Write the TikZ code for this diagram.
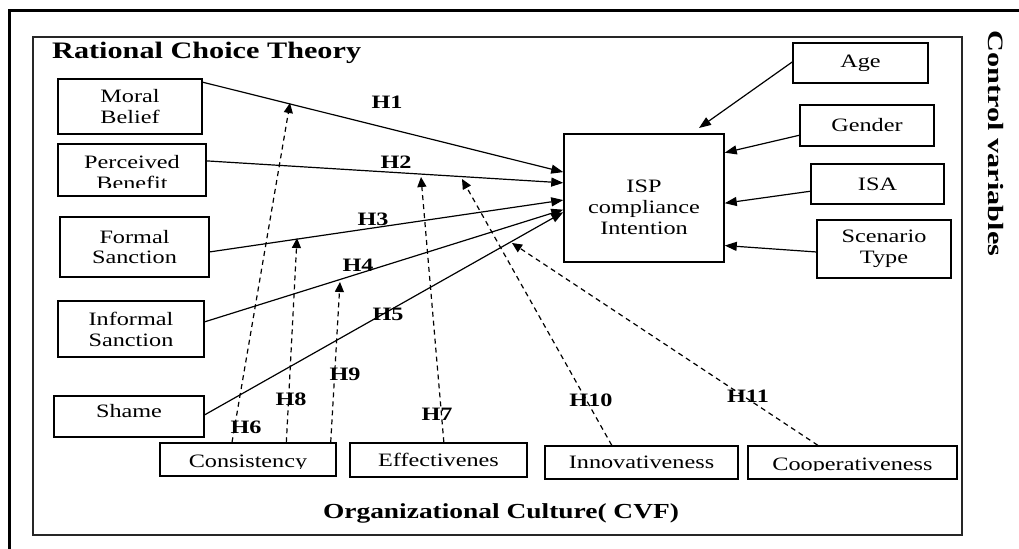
\documentclass[tikz,border=0pt]{standalone}
\usepackage{fontspec}
\setmainfont{Liberation Serif}[FakeStretch=1.28]
\newfontfamily\cvfont{Liberation Serif}[FakeStretch=1.38]
\usetikzlibrary{arrows.meta,calc}
\begin{document}
\begin{tikzpicture}[x=1bp,y=-1bp,
  box/.style={draw, line width=1.5bp, inner sep=0pt, align=center, font=\fontsize{19}{21}\selectfont},
  sz/.style 2 args={minimum width=#1bp, minimum height=#2bp},
  txt/.style={inner sep=0pt, align=center, font=\fontsize{19}{21}\selectfont},
  hlab/.style={inner sep=0pt, font=\bfseries\fontsize{19}{21}\selectfont},
  solidarr/.style={line width=1.2bp, -{Triangle[length=12bp,width=9bp]}},
  modarr/.style={line width=1.2bp, dash pattern=on 5bp off 4bp, -{Triangle[length=10bp,width=9bp]}},
]
\useasboundingbox (0,0) rectangle (1019,549);
% frames
\draw[line width=3bp] (9,549) -- (9,10.5) -- (1019,10.5);
\draw[line width=1.5bp, black!85] (33,37) rectangle (962,535);

% titles
\node[inner sep=0pt, anchor=base west, font=\bfseries\fontsize{23.7}{26}\selectfont] (rct) at (52,59) {Rational Choice Theory};
\node[inner sep=0pt, anchor=base, font=\bfseries\fontsize{21.5}{24}\selectfont] (oc) at (501,518) {Organizational Culture( CVF)};
\node[inner sep=0pt, rotate=-90, font=\cvfont\bfseries\fontsize{22}{24}\selectfont] (cv) at (996,143.5) {Control variables};

% left boxes
\node[box, sz={144}{55}] (mb) at (130,106.5) {Moral\\Belief};
\node[box, sz={148}{52}] (pb) at (132,170) {};
\begin{scope}
  \clip (58,144) rectangle (206,187.5);
  \node[txt, font=\fontsize{19}{22}\selectfont] (pbt) at (132,172.5) {Perceived\\Benefit};
\end{scope}
\node[box, sz={149}{60}] (fs) at (134.5,247) {Formal\\Sanction};
\node[box, sz={146}{56}] (is) at (131,329) {Informal\\Sanction};
\node[box, sz={150}{41}, text depth=11bp] (sh) at (129,416.5) {Shame};

% bottom boxes
\node[box, sz={176}{33}] (co) at (248,459.5) {};
\begin{scope}
  \clip (160,443) rectangle (336,468);
  \node[txt, anchor=base] (cot) at (248,467.5) {Consistency};
\end{scope}
\node[box, sz={177}{34}] (ef) at (438.5,460) {Effectivenes};
\node[box, sz={193}{33}] (in) at (641.5,462.5) {Innovativeness};
\node[box, sz={209}{33}] (cp) at (852.5,462.5) {};
\begin{scope}
  \clip (748,446) rectangle (957,470.5);
  \node[txt, anchor=base] (cpt) at (852.5,470) {Cooperativeness};
\end{scope}

% central box
\node[box, sz={160}{128}] (isp) at (644,198) {};
\node[txt] (ispt) at (644,207) {ISP\\compliance\\Intention};

% control boxes
\node[box, sz={135}{40}] (age) at (860.5,63) {Age};
\node[box, sz={134}{41}] (gen) at (867,125.5) {Gender};
\node[box, sz={133}{40}] (isa) at (877.5,184) {ISA};
\node[box, sz={134}{58}] (sc) at (884,249) {Scenario\\Type};

% main arrows
\draw[solidarr] ($(mb.north east)!0.07!(mb.south east)$) -- ($(isp.north west)!0.30!(isp.south west)$);
\draw[solidarr] ($(pb.north east)!0.33!(pb.south east)$) -- ($(isp.north west)!0.383!(isp.south west)$);
\draw[solidarr] ($(fs.north east)!0.58!(fs.south east)$) -- ($(isp.north west)!0.516!(isp.south west)$);
\draw[solidarr] ($(is.north east)!0.375!(is.south east)$) -- ($(isp.north west)!0.59!(isp.south west)$);
\draw[solidarr] ($(sh.north east)!0.46!(sh.south east)$) -- ($(isp.north west)!0.61!(isp.south west)$);

% moderator arrows
\coordinate (m6) at (290,103);
\coordinate (m8) at (297,238);
\coordinate (m9) at (340,282);
\coordinate (m7) at (421,177);
\coordinate (m10) at (462,179);
\coordinate (m11) at (512,243);
\draw[modarr] ($(co.north west)!0.41!(co.north east)$) -- (m6);
\draw[modarr] ($(co.north west)!0.716!(co.north east)$) -- (m8);
\draw[modarr] ($(co.north west)!0.966!(co.north east)$) -- (m9);
\draw[modarr] ($(ef.north west)!0.53!(ef.north east)$) -- (m7);
\draw[modarr] ($(in.north west)!0.347!(in.north east)$) -- (m10);
\draw[modarr] ($(cp.north west)!0.335!(cp.north east)$) -- (m11);

% control arrows
\coordinate (cage) at (699,128);
\draw[solidarr] ($(age.north west)!0.475!(age.south west)$) -- (cage);
\draw[solidarr] ($(gen.north west)!0.73!(gen.south west)$) -- ($(isp.north east)!0.15!(isp.south east)$);
\draw[solidarr] ($(isa.north west)!0.675!(isa.south west)$) -- ($(isp.north east)!0.54!(isp.south east)$);
\draw[solidarr] ($(sc.north west)!0.55!(sc.south west)$) -- ($(isp.north east)!0.867!(isp.south east)$);

% labels
\node[hlab] (h1) at (387,102) {H1};
\node[hlab] (h2) at (396,162) {H2};
\node[hlab] (h3) at (373,219) {H3};
\node[hlab] (h4) at (358,265) {H4};
\node[hlab] (h5) at (388,314) {H5};
\node[hlab] (h6) at (246,427) {H6};
\node[hlab] (h8) at (291,399) {H8};
\node[hlab] (h9) at (345,374) {H9};
\node[hlab] (h7) at (437,414) {H7};
\node[hlab] (h10) at (591,400) {H10};
\node[hlab] (h11) at (748,396) {H11};
\end{tikzpicture}
\end{document}
